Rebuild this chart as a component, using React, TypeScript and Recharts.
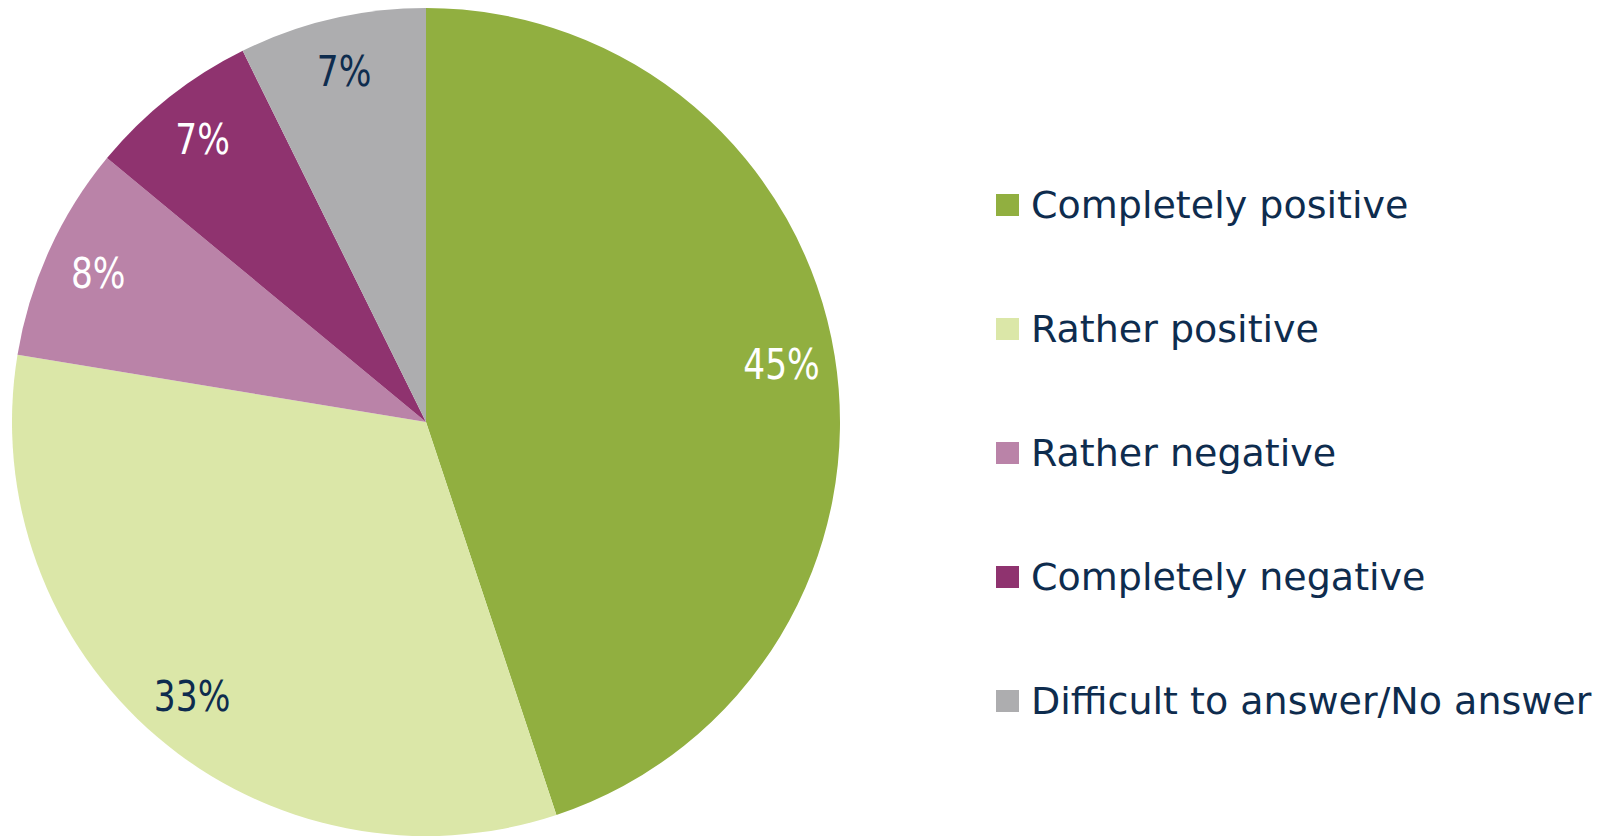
import { Cell, Legend, Pie, PieChart } from 'recharts'

const categories = [
  'Completely positive',
  'Rather positive',
  'Rather negative',
  'Completely negative',
  'Difficult to answer/No answer',
]
const shares = [44.9, 32.7, 8.4, 6.7, 7.3]
const shareLabels = ['45%', '33%', '8%', '7%', '7%']
const colors = ['#91af40', '#dbe7a8', '#ba83a8', '#8f336f', '#adadaf']
const labelColors = ['#ffffff', '#0e2c4e', '#ffffff', '#ffffff', '#0e2c4e']

const data = categories.map((name, i) => ({ name, value: shares[i] }))

const NAVY = '#0e2c4e'
const RADIAN = Math.PI / 180

function renderLabel(props: any) {
  const { cx, cy, midAngle, outerRadius, index } = props
  const r = outerRadius * 0.87
  const x = cx + r * Math.cos(-midAngle * RADIAN)
  const y = cy + r * Math.sin(-midAngle * RADIAN)
  // reference uses a condensed face, so squeeze the glyphs a bit
  return (
    <text
      transform={`translate(${x},${y}) scale(0.8,1)`}
      x={0}
      y={0}
      fill={labelColors[index]}
      textAnchor="middle"
      dominantBaseline="central"
      style={{ fontFamily: '"DejaVu Sans", sans-serif', fontSize: 43 }}
    >
      {shareLabels[index]}
    </text>
  )
}

// legend keeps the data order (recharts would sort it by name)
function LegendList() {
  return (
    <ul style={{ listStyle: 'none', margin: 0, padding: 0 }}>
      {categories.map((name, i) => (
        <li
          key={name}
          style={{
            display: 'flex',
            alignItems: 'center',
            height: 124,
            fontFamily: '"DejaVu Sans", Verdana, sans-serif',
            fontSize: 38,
            color: NAVY,
            whiteSpace: 'nowrap',
          }}
        >
          <span
            style={{
              display: 'inline-block',
              width: 23,
              height: 22,
              marginRight: 12,
              backgroundColor: colors[i],
            }}
          />
          {name}
        </li>
      ))}
    </ul>
  )
}

export default function App() {
  return (
    <div style={{ position: 'absolute', left: 0, top: 0, width: 1621, height: 836, background: '#fff' }}>
      <PieChart width={1621} height={836} margin={{ top: 0, right: 0, bottom: 0, left: 0 }}>
        <Pie
          data={data}
          dataKey="value"
          nameKey="name"
          cx={426}
          cy={422}
          outerRadius={414}
          startAngle={90}
          endAngle={-270}
          stroke="none"
          label={renderLabel}
          labelLine={false}
          isAnimationActive={false}
        >
          {data.map((d, i) => (
            <Cell key={d.name} fill={colors[i]} />
          ))}
        </Pie>
        <Legend
          layout="vertical"
          verticalAlign="top"
          align="right"
          content={<LegendList />}
          wrapperStyle={{ left: 996, top: 143, width: 620 }}
        />
      </PieChart>
    </div>
  )
}
